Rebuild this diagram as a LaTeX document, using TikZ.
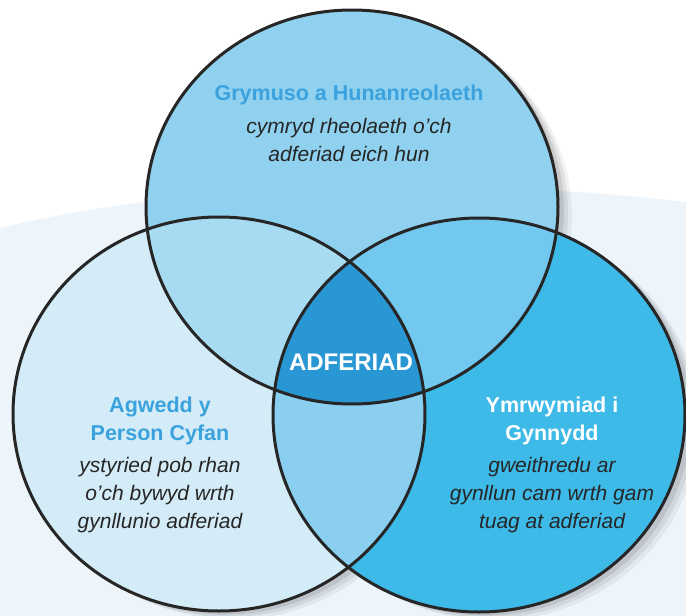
\documentclass[tikz,border=0pt]{standalone}
\usepackage{fontspec}
\setmainfont{Liberation Sans}
\usepackage{xcolor}
\usepackage{tikz}
\usetikzlibrary{positioning}
\definecolor{bgblue}{HTML}{EDF5FB}
\definecolor{topblue}{HTML}{8FD1EF}
\definecolor{leftblue}{HTML}{D3ECF7}
\definecolor{rightblue}{HTML}{3DBAE8}
\definecolor{tlblue}{HTML}{A6DBF2}
\definecolor{trblue}{HTML}{72C8EE}
\definecolor{lrblue}{HTML}{8ACFEF}
\definecolor{midblue}{HTML}{2A97D5}
\definecolor{headblue}{HTML}{3BA2DE}
\definecolor{inkgray}{HTML}{262626}
\newcommand{\vennT}{(352,207) ellipse [x radius=206, y radius=197]}
\newcommand{\vennL}{(219,414) ellipse [x radius=206, y radius=197]}
\newcommand{\vennR}{(479,415) ellipse [x radius=206, y radius=197]}

\begin{document}
\begin{tikzpicture}[x=1pt, y=-1pt,
  ring/.style={draw=inkgray, line width=3pt},
  head/.style={font=\bfseries\fontsize{21.5}{28}\selectfont, align=center, inner sep=0pt},
  body/.style={font=\itshape\fontsize{21}{28}\selectfont, text=inkgray, align=center, inner sep=0pt}]
  \useasboundingbox (0,0) rectangle (686,616);
  \fill[white] (0,0) rectangle (686,616);
  \fill[bgblue] (0,228) .. controls (200,180) and (460,176) .. (686,202) -- (686,616) -- (0,616) -- cycle;
  % soft shadow
  \foreach \d/\o in {14/0.05, 10/0.07, 6/0.09} {
    \begin{scope}[transparency group, opacity=\o, shift={(\d,\d*0.6)}]
      \fill[black] \vennT; \fill[black] \vennL; \fill[black] \vennR;
    \end{scope}
  }
  % sets
  \fill[topblue] \vennT;
  \fill[leftblue] \vennL;
  \fill[rightblue] \vennR;
  \begin{scope} \clip \vennT; \fill[tlblue] \vennL; \end{scope}
  \begin{scope} \clip \vennT; \fill[trblue] \vennR; \end{scope}
  \begin{scope} \clip \vennL; \fill[lrblue] \vennR; \end{scope}
  \begin{scope} \clip \vennT; \clip \vennL; \fill[midblue] \vennR; \end{scope}
  \draw[ring] \vennT;
  \draw[ring] \vennL;
  \draw[ring] \vennR;
  % labels
  \node[head, text=headblue] (thead) at (349,95) {Grymuso a Hunanreolaeth};
  \node[body] (tbody) at (349,140) {cymryd rheolaeth o'ch\\adferiad eich hun};
  \node[head, text=white, font=\bfseries\fontsize{24}{28}\selectfont] (core) at (351,362) {ADFERIAD};
  \node[head, text=headblue] (lhead) at (160,421) {Agwedd y\\Person Cyfan};
  \node[body] (lbody) at (160,495) {ystyried pob rhan\\o'ch bywyd wrth\\gynllunio adferiad};
  \node[head, text=white] (rhead) at (552,421) {Ymrwymiad i\\Gynnydd};
  \node[body] (rbody) at (552,495) {gweithredu ar\\gynllun cam wrth gam\\tuag at adferiad};
\end{tikzpicture}
\end{document}
